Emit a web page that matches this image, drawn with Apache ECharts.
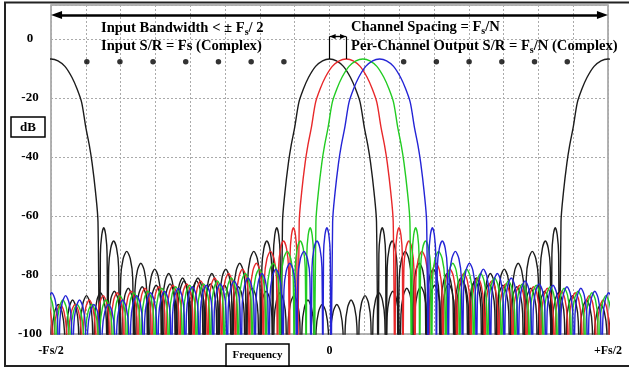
<!DOCTYPE html>
<html>
<head>
<meta charset="utf-8">
<script src="https://cdn.jsdelivr.net/npm/echarts@6/dist/echarts.min.js"></script>
<style>
html, body { margin: 0; padding: 0; background: #fff; }
#chart { width: 629px; height: 370px; }
</style>
</head>
<body>
<div id="chart"></div>
<script>
// x is in units of Fs/16 (one grid column), y in dB
var xTickValues = [-8, 0, 8];
var xTickNames = ['-Fs/2', '0', '+Fs/2'];
var yTickValues = [-100, -80, -60, -40, -20, 0];

// channel filters: the black one at +/-Fs/2, the black one at 0, then red, green, blue
var channelNames = ['edge', 'ch0', 'ch1', 'ch2', 'ch3'];
var channelCenters = [8, 0, 0.48, 0.96, 1.44];
var channelColors = ['#1c1c1c', '#1c1c1c', '#e8282a', '#22cc22', '#2424d6'];

// main lobe, one side
var mainOffsets = [0, 0.2, 0.4, 0.6, 0.75, 0.88, 1.0, 1.1, 1.18, 1.28, 1.35];
var mainLevels = [-6.8, -7.4, -9.3, -13, -17, -21.5, -30, -36, -42, -52, -62];

// sidelobes: null positions and peak level of each lobe between them
var sideNulls = [1.40, 1.63, 1.97, 2.38, 2.78, 3.18, 3.58, 3.98, 4.38, 4.78, 5.18, 5.58, 5.98, 6.38, 6.78, 7.18, 7.58, 8.00];
var sidePeaks = [-64, -68.5, -72, -76, -78, -79.5, -81, -82, -83, -83.5, -84, -84.5, -85.5, -86, -87, -88.5, -90];
// shape of one sidelobe between its nulls (fraction of width, dB below peak)
var lobeShapeU = [0.08, 0.25, 0.5, 0.75, 0.92];
var lobeShapeDb = [-9, -2.5, 0, -2.5, -9];
var nullLevel = -125;

// other channel centres shown as dots
var dotsX = [-6.97, -6.02, -5.07, -4.13, -3.19, -2.25, -1.31, 2.13, 3.07, 4.01, 4.95, 5.89, 6.83];
var dotLevel = -7.7;

// annotation arrows (dB level of the arrows, inset so the tips sit on the ends)
var bandArrowLevel = 8.1;
var spacingArrowLevel = 0.8;
var bandArrowInset = 0.16;
var spacingArrowInset = 0.09;

var serif = '"Liberation Serif", "Times New Roman", serif';

function halfResponse() {
    var pts = [];
    for (var i = 0; i < mainOffsets.length; i++) pts.push([mainOffsets[i], mainLevels[i]]);
    pts.push([sideNulls[0], nullLevel]);
    for (var k = 0; k < sidePeaks.length; k++) {
        var a = sideNulls[k], b = sideNulls[k + 1];
        for (var j = 0; j < lobeShapeU.length; j++) {
            pts.push([a + (b - a) * lobeShapeU[j], sidePeaks[k] + lobeShapeDb[j]]);
        }
        pts.push([b, nullLevel]);
    }
    return pts;
}

// response repeats every Fs (16 units)
function channelData(c) {
    var half = halfResponse();
    var data = [];
    [-16, 0, 16].forEach(function (shift) {
        var x0 = c + shift;
        for (var i = half.length - 1; i > 0; i--) data.push([x0 - half[i][0], half[i][1]]);
        for (var j = 0; j < half.length; j++) data.push([x0 + half[j][0], half[j][1]]);
    });
    return data;
}

var series = channelNames.map(function (name, i) {
    return {
        name: name,
        type: 'line',
        data: channelData(channelCenters[i]),
        showSymbol: false,
        smooth: 0.3,
        clip: true,
        lineStyle: { color: channelColors[i], width: 1.4 },
        z: 2 + i
    };
});

var c0 = channelCenters[1], c1 = channelCenters[2];
series.push({
    type: 'scatter',
    data: dotsX.map(function (x) { return [x, dotLevel]; }),
    symbolSize: 5.5,
    itemStyle: { color: '#000' },
    z: 10,
    markLine: {
        silent: true,
        symbol: ['triangle', 'triangle'],
        symbolSize: [8, 11],
        label: { show: false },
        lineStyle: { color: '#000', width: 2.5, type: 'solid' },
        data: [
            [{ coord: [-8 + bandArrowInset, bandArrowLevel] }, { coord: [8 - bandArrowInset, bandArrowLevel] }],
            [{ coord: [c0, mainLevels[0]], symbol: 'none', lineStyle: { width: 1.2 } }, { coord: [c0, spacingArrowLevel], symbol: 'none' }],
            [{ coord: [c1, mainLevels[0]], symbol: 'none', lineStyle: { width: 1.2 } }, { coord: [c1, spacingArrowLevel], symbol: 'none' }],
            [{ coord: [c0, spacingArrowLevel], symbol: 'none', lineStyle: { width: 1.2 } }, { coord: [c1, spacingArrowLevel], symbol: 'none' }],
            [{ coord: [c0 + spacingArrowInset, spacingArrowLevel], symbolSize: [5, 6], lineStyle: { width: 1.2 } },
             { coord: [c1 - spacingArrowInset, spacingArrowLevel], symbolSize: [5, 6] }]
        ]
    }
});

function richText(x, y, text) {
    return {
        type: 'text', x: x, y: y, z: 100,
        style: {
            text: text, fill: '#000', verticalAlign: 'middle',
            rich: {
                b: { fontFamily: serif, fontWeight: 'bold', fontSize: 14.6, lineHeight: 18, fill: '#000' },
                s: { fontFamily: serif, fontWeight: 'bold', fontSize: 10, lineHeight: 18, verticalAlign: 'bottom', fill: '#000' }
            }
        }
    };
}

var chart = echarts.init(document.getElementById('chart'));
chart.setOption({
    animation: false,
    backgroundColor: '#fff',
    grid: { left: 51, right: 21, top: 5, bottom: 36, show: true, borderColor: '#999', borderWidth: 1.5 },
    xAxis: {
        type: 'value', min: -8, max: 8, interval: 1,
        axisLine: { show: false }, axisTick: { show: false },
        axisLabel: {
            margin: 11, color: '#000', fontWeight: 'bold', fontSize: 12, fontFamily: serif,
            showMinLabel: true, showMaxLabel: true,
            formatter: function (v) {
                var i = xTickValues.indexOf(v);
                return i >= 0 ? xTickNames[i] : '';
            }
        },
        splitLine: { lineStyle: { color: '#aaa', type: [2, 2], width: 1 } }
    },
    yAxis: {
        type: 'value', min: -100, max: 11.5, interval: 20,
        axisLine: { show: false }, axisTick: { show: false },
        axisLabel: {
            margin: 21, align: 'center', color: '#000', fontWeight: 'bold', fontSize: 13, fontFamily: serif,
            showMaxLabel: false,
            formatter: function (v) { return yTickValues.indexOf(v) >= 0 ? String(v) : ''; }
        },
        splitLine: { lineStyle: { color: '#aaa', type: [2, 2], width: 1 } }
    },
    series: series,
    graphic: [
        { type: 'rect', shape: { x: 5, y: 2.5, width: 640, height: 363.5 }, style: { fill: 'none', stroke: '#222', lineWidth: 2 }, z: 100 },
        { type: 'rect', shape: { x: 11, y: 117, width: 34, height: 20 }, style: { fill: '#fff', stroke: '#000', lineWidth: 1.5 }, z: 100 },
        { type: 'text', x: 28, y: 127.5, z: 101, style: { text: 'dB', font: 'bold 13px ' + serif, fill: '#000', align: 'center', verticalAlign: 'middle' } },
        { type: 'rect', shape: { x: 226, y: 344, width: 63, height: 22 }, style: { fill: '#fff', stroke: '#000', lineWidth: 1.5 }, z: 100 },
        { type: 'text', x: 257.5, y: 355.5, z: 101, style: { text: 'Frequency', font: 'bold 11px ' + serif, fill: '#000', align: 'center', verticalAlign: 'middle' } },
        richText(101, 28, '{b|Input Bandwidth < ± F}{s|s}{b|/ 2}'),
        richText(101, 46, '{b|Input S/R = Fs (Complex)}'),
        richText(351, 27.5, '{b|Channel Spacing = F}{s|s}{b|/N}'),
        richText(351, 46, '{b|Per-Channel Output S/R = F}{s|s}{b|/N (Complex)}')
    ]
});
</script>
</body>
</html>
